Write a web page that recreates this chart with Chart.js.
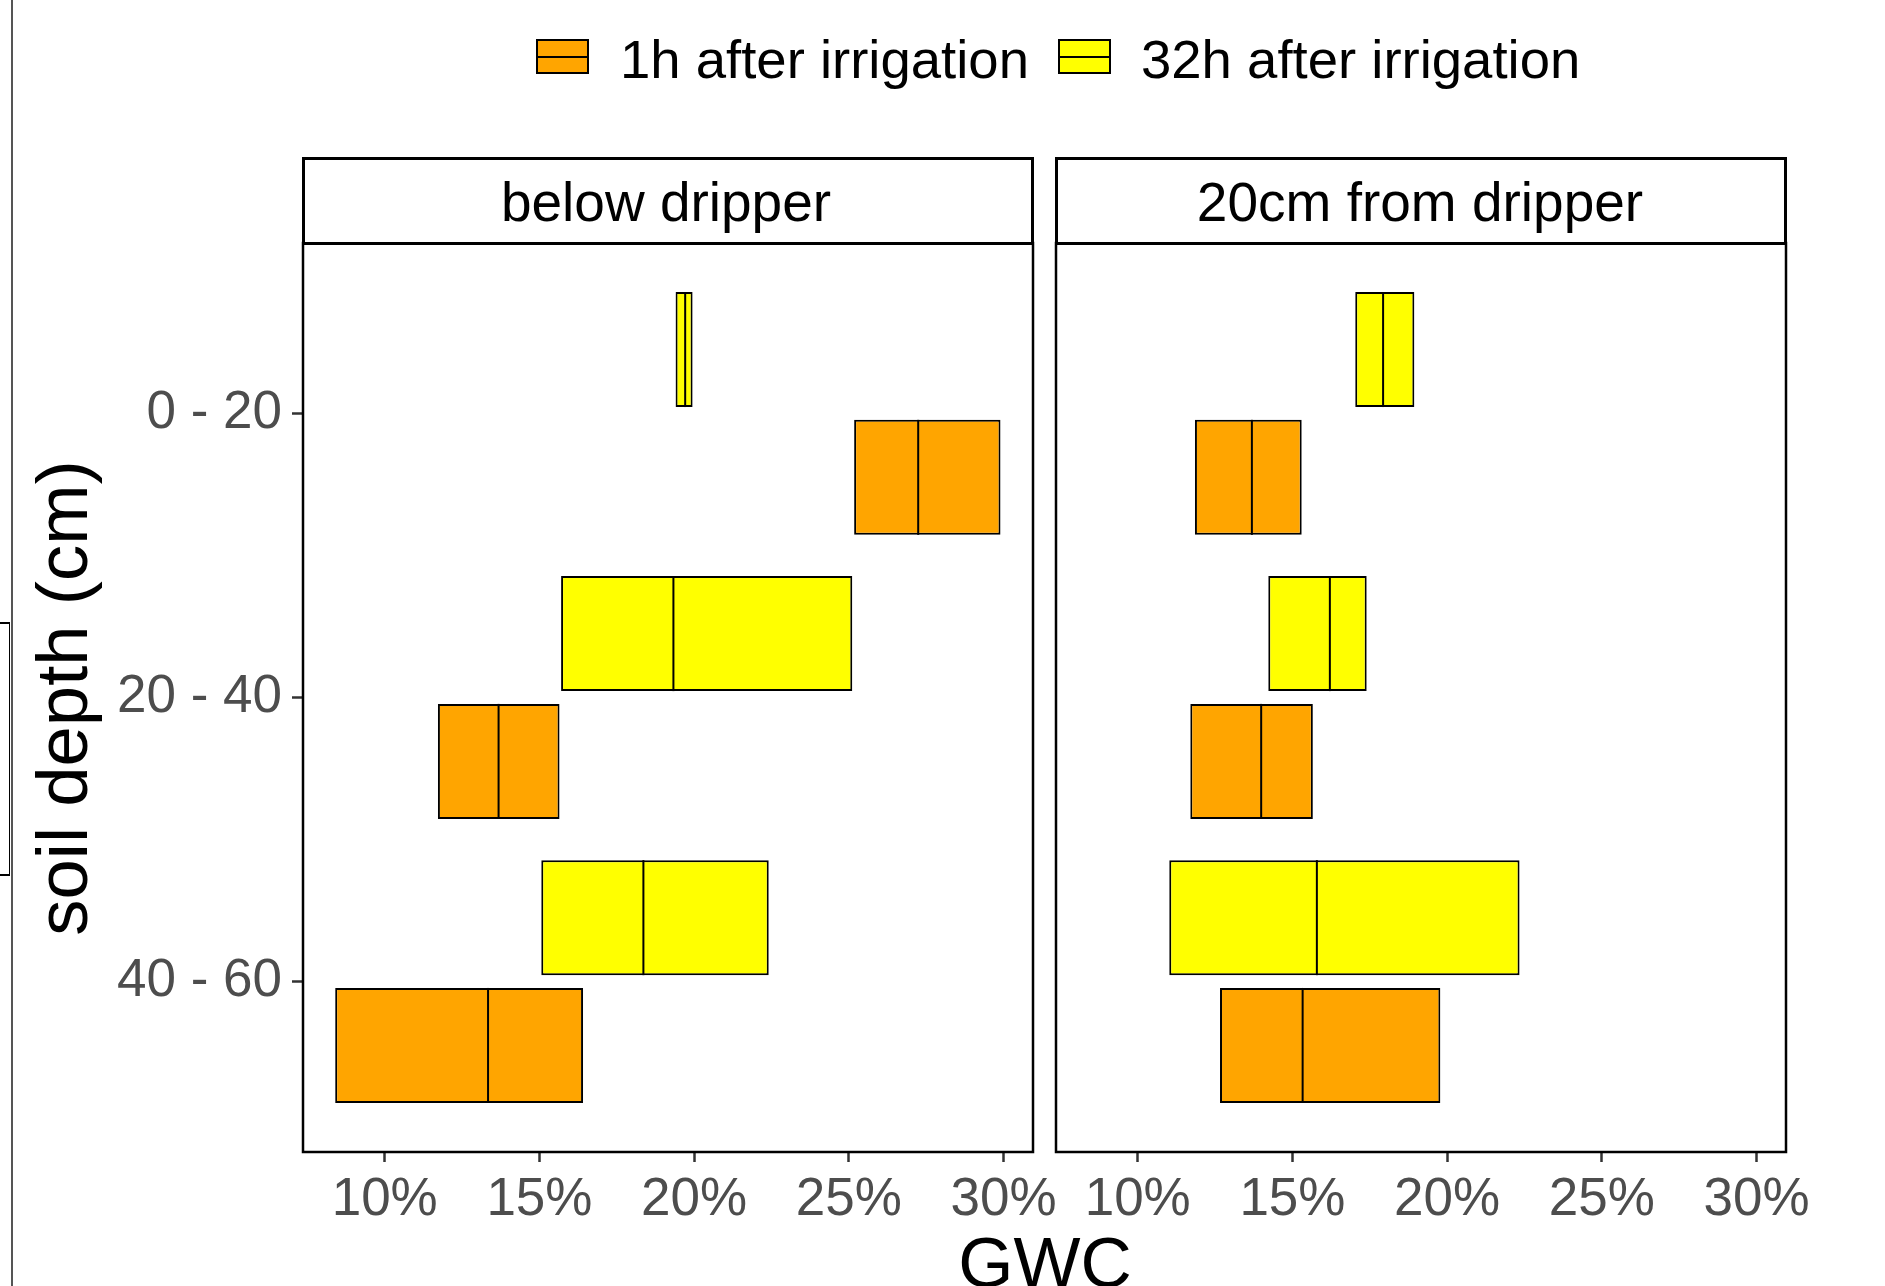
<!DOCTYPE html>
<html><head><meta charset="utf-8">
<script src="https://cdn.jsdelivr.net/npm/chart.js@4.4.0/dist/chart.umd.min.js"></script>
<style>
html,body{margin:0;padding:0;background:#fff;}
#wrap{position:relative;width:1885px;height:1286px;overflow:hidden;font-family:'Liberation Sans',Arial,sans-serif;background:#fff;}
canvas{position:absolute;left:0;top:0;}
.t{position:absolute;line-height:1;white-space:nowrap;color:#000;z-index:5;}
.key{position:absolute;box-sizing:border-box;border:2px solid #000;z-index:5;}
.key::after{content:'';position:absolute;left:0;right:0;top:50%;height:2px;margin-top:-1px;background:#000;}
.strip{position:absolute;box-sizing:border-box;border:3.5px solid #000;background:#fff;z-index:4;}
.ln{position:absolute;z-index:5;}
</style></head><body>
<div id="wrap">
  <canvas id="c1" width="1885" height="1286"></canvas>
  <canvas id="c2" width="1885" height="1286"></canvas>

  <div class="ln" style="left:11px;top:0;width:1.5px;height:1286px;background:#555;"></div>
  <div class="ln" style="left:0;top:622px;width:10px;height:1.5px;background:#000;"></div>
  <div class="ln" style="left:0;top:874px;width:10px;height:1.5px;background:#000;"></div>
  <div class="ln" style="left:8.5px;top:622px;width:1.5px;height:254px;background:#000;"></div>

  <div class="key" style="left:536px;top:39px;width:53px;height:35px;background:#FFA500;"></div>
  <div class="t" id="leg1" style="left:620px;top:33px;font-size:54.5px;"></div>
  <div class="key" style="left:1058px;top:39px;width:53px;height:35px;background:#FFFF00;"></div>
  <div class="t" id="leg2" style="left:1141px;top:33px;font-size:54.5px;"></div>

  <div class="strip" style="left:302px;top:157px;width:732px;height:88px;"></div>
  <div class="t" id="strip1" style="left:666px;top:175px;font-size:55px;transform:translateX(-50%);"></div>
  <div class="strip" style="left:1055px;top:157px;width:732px;height:88px;"></div>
  <div class="t" id="strip2" style="left:1420px;top:175px;font-size:55px;transform:translateX(-50%);"></div>

  <div class="t" id="xtitle" style="left:1045px;top:1227px;font-size:71px;transform:translateX(-50%);"></div>
  <div class="t" id="ytitle" style="left:62px;top:698px;font-size:72.5px;transform:translate(-50%,-50%) rotate(-90deg);"></div>
</div>
<script>
// ---------- data ----------
const depthLabels = ['0 - 20', '20 - 40', '40 - 60'];
const depthPos = [1, 2, 3];
const panelNames = ['below dripper', '20cm from dripper'];
const seriesNames = ['1h after irrigation', '32h after irrigation'];
const xTicks = [10, 15, 20, 25, 30];
const xTitle = 'GWC';
const yTitle = 'soil depth (cm)';

// below dripper, 1h after irrigation (GWC %)
const below1hQ1  = [25.17, 11.72, 8.40];
const below1hMed = [27.24, 13.68, 13.34];
const below1hQ3  = [29.90, 15.65, 16.41];
// below dripper, 32h after irrigation
const below32hQ1  = [19.40, 15.70, 15.06];
const below32hMed = [19.71, 19.33, 18.36];
const below32hQ3  = [19.95, 25.11, 22.41];
// 20cm from dripper, 1h after irrigation
const side1hQ1  = [11.85, 11.70, 12.66];
const side1hMed = [13.69, 13.99, 15.33];
const side1hQ3  = [15.30, 15.66, 19.78];
// 20cm from dripper, 32h after irrigation
const side32hQ1  = [17.03, 14.22, 11.02];
const side32hMed = [17.93, 16.21, 15.79];
const side32hQ3  = [18.94, 17.40, 22.34];

// ---------- texts ----------
document.getElementById('leg1').textContent = seriesNames[0];
document.getElementById('leg2').textContent = seriesNames[1];
document.getElementById('strip1').textContent = panelNames[0];
document.getElementById('strip2').textContent = panelNames[1];
document.getElementById('xtitle').textContent = xTitle;
document.getElementById('ytitle').textContent = yTitle;

const FONT = "'Liberation Sans', Arial, sans-serif";
Chart.defaults.font.family = FONT;
const colOrange = '#FFA500', colYellow = '#FFFF00';
const xMin = 7.36, xMax = 30.95, yMin = 0.4, yMax = 3.6;

function boxData(q1, q3) {
  return depthPos.map((p, i) => ({ y: p, x: [q1[i], q3[i]] }));
}

function medianPlugin(meds) {
  return {
    id: 'medianLines',
    afterDatasetsDraw(chart) {
      const ctx = chart.ctx, xs = chart.scales.x;
      chart.data.datasets.forEach((ds, di) => {
        const meta = chart.getDatasetMeta(di);
        meta.data.forEach((bar, i) => {
          const p = bar.getProps(['y', 'height'], true);
          const px = xs.getPixelForValue(meds[di][i]);
          ctx.save();
          ctx.strokeStyle = '#000'; ctx.lineWidth = 2;
          ctx.beginPath();
          ctx.moveTo(px, p.y - p.height / 2);
          ctx.lineTo(px, p.y + p.height / 2);
          ctx.stroke();
          ctx.restore();
        });
      });
      const a = chart.chartArea;
      ctx.save();
      ctx.strokeStyle = '#000'; ctx.lineWidth = 2.5;
      ctx.strokeRect(a.left, a.top, a.right - a.left, a.bottom - a.top);
      ctx.restore();
    }
  };
}

function makePanel(id, q1h, m1h, q31h, q32, m32, q332, showY, padLeft, padRight) {
  const tickFont = { family: FONT, size: 53 };
  return new Chart(document.getElementById(id), {
    type: 'bar',
    data: {
      datasets: [
        { label: seriesNames[1], data: boxData(q32, q332), backgroundColor: colYellow,
          borderColor: '#000', borderWidth: 2, borderSkipped: false },
        { label: seriesNames[0], data: boxData(q1h, q31h), backgroundColor: colOrange,
          borderColor: '#000', borderWidth: 2, borderSkipped: false }
      ]
    },
    options: {
      indexAxis: 'y',
      responsive: false,
      animation: false,
      events: [],
      categoryPercentage: 0.9,
      barPercentage: 0.9,
      layout: { padding: { left: padLeft, right: padRight, top: 243, bottom: 0 } },
      plugins: { legend: { display: false }, tooltip: { enabled: false } },
      scales: {
        x: {
          type: 'linear', position: 'bottom', min: xMin, max: xMax, offset: false,
          afterBuildTicks: s => { s.ticks = xTicks.map(v => ({ value: v })); },
          afterFit: s => { s.height = 134; },
          ticks: { callback: v => v + '%', font: tickFont, color: '#4D4D4D', padding: 7,
                   autoSkip: false, maxRotation: 0, minRotation: 0, includeBounds: false },
          grid: { display: true, drawOnChartArea: false, drawTicks: true, tickLength: 10,
                  tickColor: '#333333', tickWidth: 2.5, offset: false },
          border: { display: false }
        },
        y: {
          type: 'linear', position: 'left', reverse: true, min: yMin, max: yMax, offset: false,
          display: showY,
          afterBuildTicks: s => { s.ticks = depthPos.map(v => ({ value: v })); },
          afterFit: s => { s.width = showY ? 200 : 0; },
          ticks: { callback: (v, i) => depthLabels[i], font: tickFont, color: '#4D4D4D', padding: 10,
                   autoSkip: false, includeBounds: false },
          grid: { display: true, drawOnChartArea: false, drawTicks: true, tickLength: 11,
                  tickColor: '#333333', tickWidth: 2.5, offset: false },
          border: { display: false }
        }
      }
    },
    plugins: [medianPlugin([m32, m1h])]
  });
}

makePanel('c1', below1hQ1, below1hMed, below1hQ3, below32hQ1, below32hMed, below32hQ3, true, 103, 852);
makePanel('c2', side1hQ1, side1hMed, side1hQ3, side32hQ1, side32hMed, side32hQ3, false, 1056, 99);
</script>
</body></html>
